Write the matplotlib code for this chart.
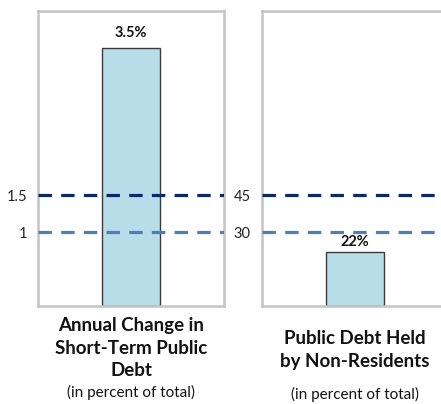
import matplotlib.pyplot as plt

# two indicators, each with its own scale and two threshold lines
titles = ["Annual Change in\nShort-Term Public\nDebt", "Public Debt Held\nby Non-Residents"]
subtitle = "(in percent of total)"
values = [3.5, 22]
labels = ["3.5%", "22%"]
upper = [1.5, 45]
lower = [1, 30]
ylims = [4, 120]

plt.rcParams['font.family'] = ['Lato', 'DejaVu Sans']

fig = plt.figure(figsize=(4.41, 4.04), dpi=100)
W, H = 441.0, 404.0
axes = [fig.add_axes([38 / W, 1 - 306 / H, 186 / W, 295 / H]),
        fig.add_axes([262 / W, 1 - 306 / H, 186 / W, 295 / H])]

dark = "#0c2a6a"
light = "#4f7db8"
title_y = [(326, 348, 371), (338, 361)]
sub_y = [392, 394]
label_off = [11, 7]

for i, ax in enumerate(axes):
    ax.bar(0, values[i], width=0.315, color="#b7dde8", edgecolor="#3a3a3a",
           linewidth=1.0, zorder=2)
    ax.axhline(upper[i], color=dark, lw=2.3, ls=(0, (4.2, 2.9)), zorder=3)
    ax.axhline(lower[i], color=light, lw=2.3, ls=(0, (4.2, 2.9)), zorder=3)
    ax.set_xlim(-0.5, 0.5)
    ax.set_ylim(0, ylims[i])
    ax.set_xticks([])
    ax.set_yticks([lower[i], upper[i]])
    ax.set_yticklabels([str(lower[i]), str(upper[i])])
    ax.tick_params(axis="y", length=0, pad=8, labelsize=10.5, labelcolor="#222222")
    for s in ax.spines.values():
        s.set_color("#c4c4c4")
        s.set_linewidth(1.8)
    ax.annotate(labels[i], (0, values[i]), xytext=(0, label_off[i]),
                textcoords="offset points", ha="center", va="center",
                fontsize=10.5, fontweight="bold", color="#111111")

    cx = [131, 355][i]
    for line, yy in zip(titles[i].split("\n"), title_y[i]):
        fig.text(cx / W, 1 - yy / H, line, ha="center", va="center",
                 fontsize=13.5, fontweight="bold", color="#111111")
    fig.text(cx / W, 1 - sub_y[i] / H, subtitle, ha="center", va="center",
             fontsize=11, color="#111111")

fig.savefig("out.png", dpi=100)
